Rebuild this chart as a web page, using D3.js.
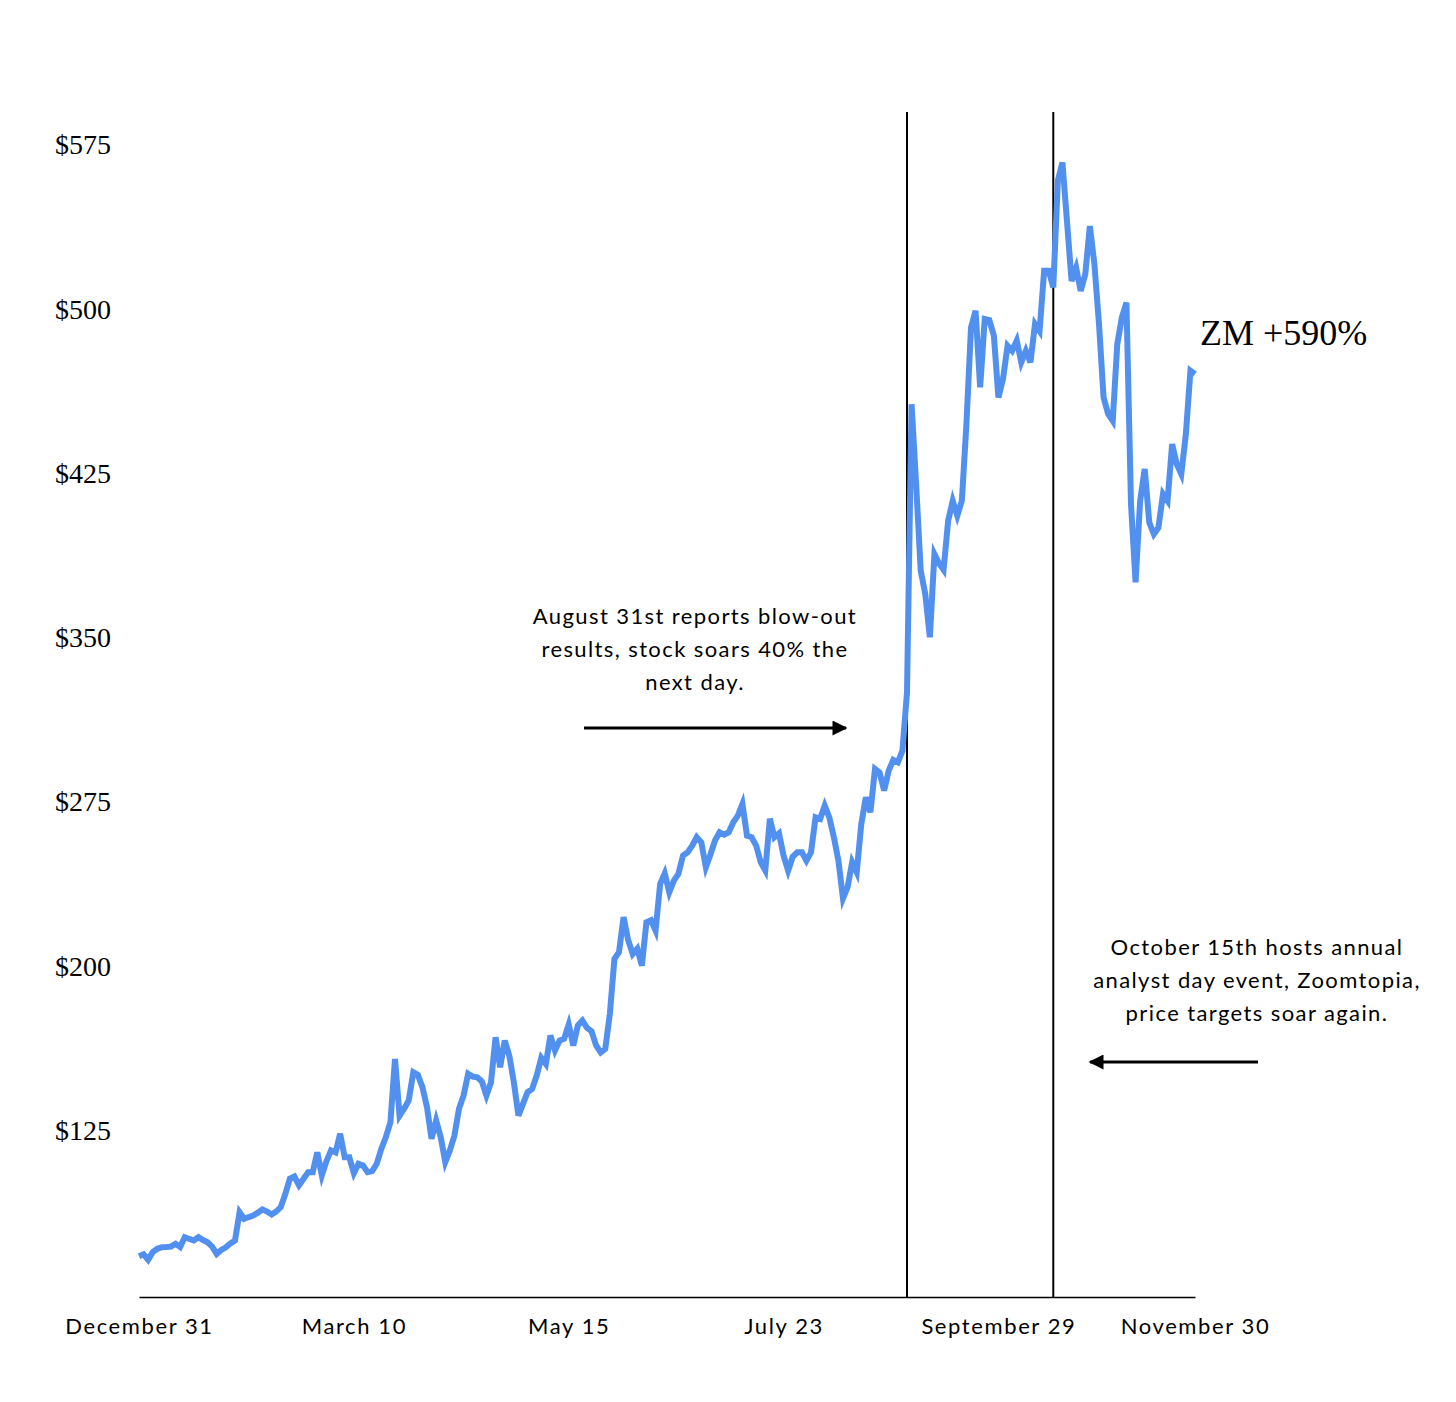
<!DOCTYPE html>
<meta charset="utf-8">
<body style="margin:0;background:#fff">
<style>
.line { fill: none; stroke: #5290f0; stroke-width: 6px; stroke-linejoin: miter; }
.ylab text { font-family: "Liberation Serif", serif; font-size: 28px; fill: #000; }
.xlab text { font-family: Lato, sans-serif; font-size: 22px; letter-spacing: 1.6px; fill: #000; }
.note { font-family: Lato, sans-serif; font-size: 22px; letter-spacing: 1.4px; fill: #000; }
</style>
<script src="https://cdn.jsdelivr.net/npm/d3@7"></script>
<script>

// ZM daily close, trading days Dec 31 2019 .. Nov 30 2020
var prices = [
  67.6, 68.5, 66.0, 69.5, 71.0, 71.7, 71.8, 72.0, 73.3, 71.8,
  76.3, 75.5, 74.8, 76.3, 75.0, 74.0, 72.0, 68.7, 70.5, 71.7,
  73.5, 74.8, 87.7, 84.7, 85.5, 86.2, 87.5, 89.0, 88.0, 86.7,
  88.0, 90.0, 96.0, 103.0, 104.0, 100.0, 103.0, 106.0, 106.0, 115.0,
  104.5, 111.0, 115.9, 115.0, 123.5, 112.8, 112.8, 105.5, 109.8, 109.0,
  106.0, 106.5, 109.8, 116.6, 122.0, 128.8, 157.7, 131.8, 135.0, 138.7,
  151.6, 150.4, 144.8, 135.6, 121.2, 129.6, 122.0, 110.6, 115.9, 122.7,
  134.9, 141.0, 150.9, 149.6, 149.3, 147.4, 141.0, 147.0, 167.6, 153.9,
  166.1, 159.2, 147.0, 131.8, 137.2, 142.5, 144.0, 150.1, 158.2, 155.4,
  168.4, 161.5, 166.1, 166.9, 173.4, 163.8, 173.0, 175.2, 171.9, 170.3,
  163.8, 160.7, 162.3, 178.3, 203.4, 206.4, 222.4, 212.0, 205.6, 208.0,
  200.3, 220.1, 221.0, 216.3, 237.6, 242.4, 233.8, 239.1, 242.2, 250.5,
  252.0, 255.0, 258.9, 256.6, 245.2, 251.0, 257.4, 261.2, 260.1, 261.2,
  265.7, 268.8, 274.1, 259.6, 258.9, 255.1, 247.5, 243.7, 267.3, 258.9,
  260.7, 250.5, 243.7, 250.0, 252.0, 252.0, 248.2, 252.0, 268.0, 267.3,
  273.3, 268.0, 258.9, 248.2, 231.0, 236.1, 247.5, 242.9, 265.0, 277.1,
  270.3, 290.1, 288.5, 280.2, 289.3, 294.2, 293.1, 298.4, 325.0, 456.6,
  420.0, 380.6, 369.9, 350.2, 388.2, 384.0, 381.0, 403.4, 412.5, 405.7,
  412.5, 447.5, 491.6, 499.3, 464.3, 495.5, 495.0, 487.9, 459.7, 468.1,
  483.3, 481.0, 485.6, 475.7, 481.0, 475.7, 493.2, 490.0, 517.5, 517.5,
  509.9, 558.6, 567.0, 540.0, 512.8, 518.9, 508.3, 516.0, 537.9, 520.5,
  493.2, 459.7, 452.1, 449.0, 484.0, 496.2, 503.0, 411.0, 375.3, 412.5,
  427.0, 402.6, 397.3, 400.3, 415.6, 412.5, 438.4, 429.3, 424.7, 442.9,
  471.9, 470.3
];

var xTickIndex = [0, 47, 94, 141, 188, 231];
var xTickLabels = ["December 31", "March 10", "May 15", "July 23", "September 29", "November 30"];
var yTicks = [125, 200, 275, 350, 425, 500, 575];
var eventIndex = [168, 200];   // Aug 31, Oct 15
var seriesLabel = "ZM +590%";
var note1 = ["August 31st reports blow-out", "results, stock soars 40% the", "next day."];
var note2 = ["October 15th hosts annual", "analyst day event, Zoomtopia,", "price targets soar again."];

var width = 1456, height = 1402;

var svg = d3.select("body").append("svg")
    .attr("width", width)
    .attr("height", height);

var x = d3.scaleLinear().domain([0, prices.length - 1]).range([139, 1195]);
var y = d3.scaleLinear().domain([49, 590]).range([1297, 112]);

svg.append("defs").append("marker")
    .attr("id", "head")
    .attr("viewBox", "0 0 10 10")
    .attr("refX", 9).attr("refY", 5)
    .attr("markerWidth", 5.5).attr("markerHeight", 5)
    .attr("orient", "auto-start-reverse")
  .append("path")
    .attr("d", "M0,0L10,5L0,10Z")
    .attr("fill", "#000");

// x axis
var xAxis = svg.append("g")
    .attr("class", "xlab")
    .attr("transform", "translate(0,1297)")
    .call(d3.axisBottom(x)
      .tickValues(xTickIndex)
      .tickFormat(function(d, i) { return xTickLabels[i]; })
      .tickSize(0)
      .tickSizeOuter(0));
xAxis.select(".domain").attr("stroke", "#000").attr("stroke-width", 1.3);
xAxis.selectAll("text").attr("dy", null).attr("y", 37).attr("font-family", null).attr("font-size", null);

// y axis labels
var yAxis = svg.append("g")
    .attr("class", "ylab")
    .call(d3.axisLeft(y)
      .tickValues(yTicks)
      .tickFormat(function(d) { return "$" + d; })
      .tickSize(0));
yAxis.select(".domain").remove();
yAxis.selectAll("text")
    .attr("text-anchor", "start")
    .attr("x", 55)
    .attr("dy", "0.32em")
    .attr("font-family", null).attr("font-size", null);

// event lines
svg.selectAll(".event")
    .data(eventIndex)
  .enter().append("line")
    .attr("x1", function(d) { return x(d); })
    .attr("x2", function(d) { return x(d); })
    .attr("y1", 112)
    .attr("y2", 1297)
    .attr("stroke", "#000")
    .attr("stroke-width", 2);

// price line
svg.append("path")
    .datum(prices)
    .attr("class", "line")
    .attr("d", d3.line()
      .x(function(d, i) { return x(i); })
      .y(function(d) { return y(d); }));

svg.append("text")
    .attr("x", 1200)
    .attr("y", 345)
    .style("font-family", "'Liberation Serif', serif")
    .style("font-size", "36px")
    .text(seriesLabel);

// annotations
function note(lines, cx, top) {
  svg.append("text")
      .attr("class", "note")
      .attr("text-anchor", "middle")
      .selectAll("tspan")
      .data(lines)
    .enter().append("tspan")
      .attr("x", cx)
      .attr("y", function(d, i) { return top + i * 33; })
      .text(function(d) { return d; });
}
note(note1, 695, 624);
note(note2, 1257, 955);

svg.append("line")
    .attr("x1", 584).attr("x2", 846)
    .attr("y1", 728).attr("y2", 728)
    .attr("stroke", "#000").attr("stroke-width", 3)
    .attr("marker-end", "url(#head)");

svg.append("line")
    .attr("x1", 1258).attr("x2", 1090)
    .attr("y1", 1062).attr("y2", 1062)
    .attr("stroke", "#000").attr("stroke-width", 3)
    .attr("marker-end", "url(#head)");

</script>
